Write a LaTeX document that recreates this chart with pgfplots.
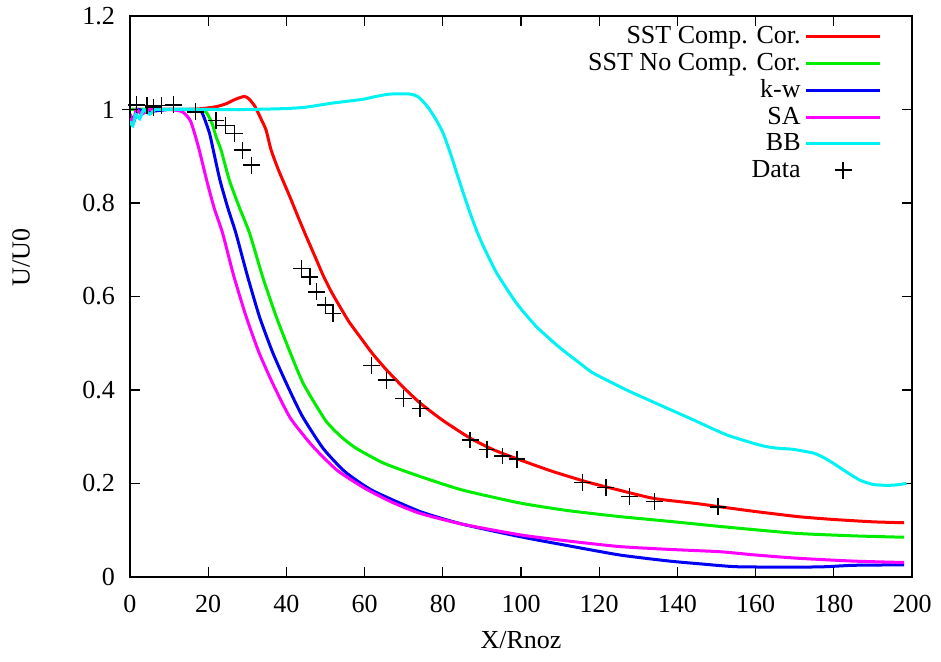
\documentclass[border=0pt]{standalone}
\usepackage{pgfplots}
\pgfplotsset{compat=1.18}
\usepackage{fontspec}
\setmainfont{Liberation Serif}
\definecolor{cred}{rgb}{1,0,0}
\definecolor{cgreen}{rgb}{0,0.93,0}
\definecolor{cblue}{rgb}{0,0,0.95}
\definecolor{cmag}{rgb}{1,0,1}
\definecolor{ccyan}{rgb}{0,0.95,0.95}
\pgfplotsset{
  lineleg/.style={legend image code/.code={\draw[##1] (0pt,0pt) -- (37pt,0pt);}},
  markleg/.style={legend image code/.code={\draw[##1] plot coordinates {(18.5pt,0pt)};}},
}
\begin{document}
\begin{tikzpicture}
\begin{axis}[
  name=ax,
  scale only axis,
  width=391pt, height=280.5pt,
  xmin=0, xmax=200, ymin=0, ymax=1.2,
  xtick={0,20,...,200},
  ytick={0,0.2,0.4,0.6,0.8,1,1.2},
  tick align=inside,
  major tick length=5pt,
  axis line style={line width=0.6pt},
  every tick/.style={black, line width=0.6pt},
  font=\fontsize{13}{15}\selectfont,
  /pgf/number format/assume math mode=true,
  yticklabel style={xshift=-4pt, /pgf/number format/fixed},
  xticklabel style={yshift=-5.5pt},
  xlabel={X/Rnoz},
  ylabel={U/U0},
  xlabel style={at={(axis description cs:0.5,-0.1123)}, anchor=center},
  ylabel style={at={(axis description cs:-0.1394,0.569)}, anchor=center},
  clip mode=individual,
  legend style={draw=none, fill=none, at={(1,1)}, anchor=north east,
    xshift=-12pt, yshift=-1pt, font=\fontsize{13}{15}\selectfont,
    cells={anchor=east}, row sep=-0.8pt},
  legend plot pos=right,
  every axis plot/.append style={smooth, tension=0.35},
]
\addplot[cred, line width=1.5pt, lineleg] coordinates {
(0,1.0) (5,1.0) (10,1.0) (15,1.0) (18.5,1.002) (22,1.006) (24.5,1.012) (27,1.022) (29.3,1.028) (30.5,1.022) (32,1.006) (33.5,0.98) (34.8,0.956) (36.1,0.913) (38,0.87) (40.8,0.815) (43,0.77) (45.1,0.728) (47.5,0.682) (49.4,0.645) (51.5,0.61) (53.7,0.578) (56,0.546) (58.8,0.514) (62,0.478) (65.6,0.443) (70,0.405) (74.2,0.372) (80,0.335) (87,0.297) (93,0.272) (99.9,0.25) (108,0.226) (117,0.203) (125,0.186) (134,0.168) (145,0.157) (151,0.150) (160,0.140) (171,0.129) (180,0.123) (190,0.118) (198,0.116)
};
\addlegendentry{SST Comp. Cor.}
\addplot[cgreen, line width=1.5pt, lineleg] coordinates {
(0,1) (10,1.0) (17,1.0) (19.4,0.995) (21,0.97) (22,0.942) (23.3,0.913) (25.4,0.849) (28,0.79) (30.6,0.735) (34,0.64) (37.4,0.557) (40.5,0.49) (44.3,0.414) (50,0.335) (54,0.3) (57.9,0.275) (65,0.243) (74.2,0.215) (85,0.186) (99.9,0.158) (112,0.142) (125.5,0.129) (138,0.119) (151,0.108) (160,0.101) (171,0.093) (185,0.088) (198,0.085)
};
\addlegendentry{SST No Comp. Cor.}
\addplot[cblue, line width=1.5pt, lineleg] coordinates {
(0,0.99) (1,0.975) (2,1.0) (4,0.995) (10,1) (16,1.0) (18.3,0.995) (20.3,0.95) (21.3,0.913) (23,0.849) (25,0.79) (27.1,0.735) (30,0.645) (33.1,0.557) (36.5,0.48) (40,0.414) (44,0.345) (49.4,0.275) (55,0.225) (62,0.185) (74.2,0.14) (85,0.113) (99.9,0.086) (112,0.067) (125.3,0.047) (138,0.034) (146,0.028) (155,0.022) (170,0.021) (178,0.022) (185,0.025) (198,0.026)
};
\addlegendentry{k-w}
\addplot[cmag, line width=1.5pt, lineleg] coordinates {
(0,0.99) (0.8,0.97) (1.6,1.0) (3,0.99) (5,1.0) (10,1.0) (13.4,0.995) (15.5,0.975) (17.5,0.92) (19.6,0.849) (21.5,0.79) (23.7,0.735) (26.5,0.645) (29.7,0.557) (33,0.48) (36.5,0.414) (41,0.34) (46.8,0.279) (53,0.228) (60,0.19) (67,0.16) (74.2,0.136) (85,0.113) (99.9,0.09) (112,0.077) (125.3,0.065) (138,0.059) (151,0.054) (160,0.047) (171,0.040) (185,0.034) (198,0.031)
};
\addlegendentry{SA}
\addplot[ccyan, line width=1.5pt, lineleg] coordinates {
(0,0.975) (0.7,0.965) (1.5,0.99) (2.5,0.98) (3.5,1.0) (5,0.99) (6.5,1.0) (10,1.0) (20,1.0) (30,1.0) (40,1.002) (45,1.005) (51.2,1.013) (55,1.017) (59.7,1.022) (63,1.028) (66.5,1.033) (71.6,1.033) (73.7,1.027) (75.5,1.012) (76.7,0.999) (78.5,0.975) (80.1,0.949) (82,0.905) (83.6,0.863) (85.3,0.82) (87,0.778) (88.7,0.74) (90.4,0.707) (93.8,0.65) (98.9,0.585) (104,0.535) (110,0.49) (115.1,0.457) (118.5,0.436) (127,0.40) (135.5,0.368) (144.1,0.336) (152.6,0.304) (161.1,0.282) (165,0.276) (169.6,0.273) (174.8,0.265) (177.5,0.255) (179.9,0.243) (183,0.226) (186.7,0.207) (190,0.198) (193.5,0.196) (196,0.197) (198.6,0.20)
};
\addlegendentry{BB}
\addplot[only marks, mark=+, mark size=4.2pt, black, line width=0.7pt, markleg] coordinates {
(0,1.0) (1.7,1.01) (4.3,1.008) (6,1.005) (8.1,1.008) (11.1,1.01) (16.8,0.995) (22,0.977) (24.5,0.966) (26.7,0.949) (28.8,0.913) (31,0.881) (43.8,0.66) (46,0.642) (47.7,0.61) (50,0.582) (51.9,0.564) (61.8,0.453) (65.6,0.421) (69.9,0.382) (74.2,0.361) (87,0.293) (91.3,0.273) (95.2,0.259) (99,0.252) (115.7,0.202) (121.7,0.192) (127.7,0.172) (134.1,0.161) (150.4,0.150)
};
\addlegendentry{Data}
\end{axis}
\path ([xshift=-65pt,yshift=-42.25pt]ax.south west) rectangle ([xshift=14.5pt,yshift=8pt]ax.north east);
\end{tikzpicture}
\end{document}
